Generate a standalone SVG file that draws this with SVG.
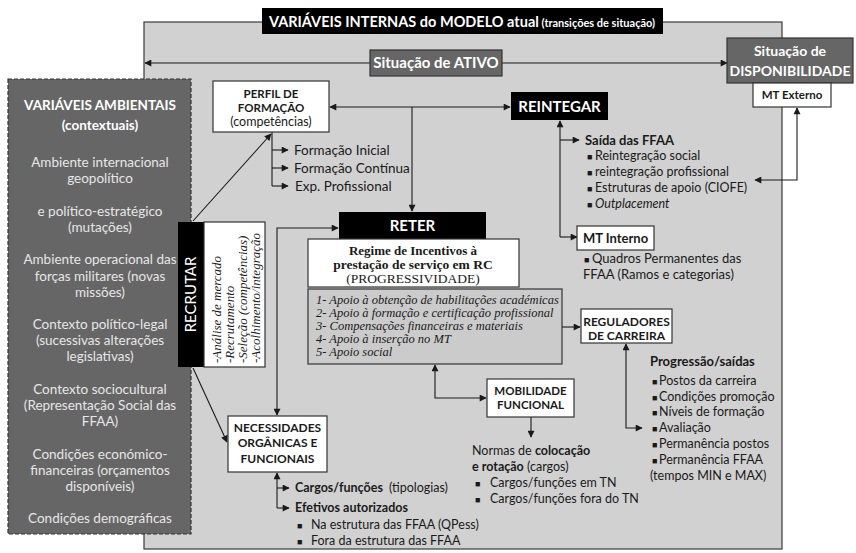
<svg xmlns="http://www.w3.org/2000/svg" width="856" height="553" viewBox="0 0 856 553">
  <style>
    .sans { font-family: Lato, "Open Sans", "Liberation Sans", sans-serif; }
    .serif { font-family: "Liberation Serif", "DejaVu Serif", serif; }
    .b { font-weight: bold; }
    .i { font-style: italic; }
    .wt { fill: #ffffff; }
    .lt { fill: #e6e6e6; }
    .dk { fill: #1a1a1a; }
    .mid { text-anchor: middle; }
    .box { fill: #ffffff; stroke: #333333; stroke-width: 1.2; }
    .blk { fill: #000000; }
    .gbox { fill: #666666; stroke: #333333; stroke-width: 1.2; }
    .ln { fill: none; stroke: #1a1a1a; stroke-width: 1.1; }
  </style>
  <defs>
    <marker id="ah" viewBox="0 0 10 10" refX="9" refY="5" markerWidth="8" markerHeight="7" markerUnits="userSpaceOnUse" orient="auto-start-reverse">
      <path d="M0,0 L10,5 L0,10 z" fill="#1a1a1a"/>
    </marker>
  </defs>

  <!-- internal variables panel -->
  <g id="painel-interno">
    <rect x="144" y="22" width="638" height="527" fill="#d1d1d1" stroke="#3a3a3a" stroke-width="1.2"/>
  </g>

  <g id="titulo">
    <rect x="262" y="8" width="401" height="26" class="blk"/>
    <text x="462" y="27" class="sans b wt mid"><tspan font-size="14.5">VARIÁVEIS INTERNAS do MODELO atual</tspan><tspan font-size="11"> (transições de situação)</tspan></text>
  </g>

  <!-- connectors -->
  <g id="conectores">
    <line x1="370" y1="63" x2="145" y2="63" class="ln" marker-end="url(#ah)"/>
    <line x1="502" y1="63" x2="727" y2="63" class="ln" marker-end="url(#ah)"/>
    <line x1="193" y1="221" x2="271" y2="134" class="ln" marker-end="url(#ah)"/>
    <line x1="193" y1="368" x2="227" y2="442" class="ln" marker-end="url(#ah)"/>
    <line x1="272" y1="132" x2="272" y2="186" class="ln"/>
    <line x1="272" y1="150" x2="288" y2="150" class="ln" marker-end="url(#ah)"/>
    <line x1="272" y1="168" x2="288" y2="168" class="ln" marker-end="url(#ah)"/>
    <line x1="272" y1="186" x2="288" y2="186" class="ln" marker-end="url(#ah)"/>
    <line x1="330" y1="107" x2="510" y2="107" class="ln" marker-start="url(#ah)" marker-end="url(#ah)"/>
    <line x1="412" y1="107" x2="412" y2="211" class="ln" marker-end="url(#ah)"/>
    <line x1="560" y1="237" x2="560" y2="121" class="ln" marker-end="url(#ah)"/>
    <line x1="560" y1="140" x2="579" y2="140" class="ln" marker-end="url(#ah)"/>
    <line x1="560" y1="237" x2="577" y2="237" class="ln" marker-end="url(#ah)"/>
    <path d="M755,180 H797 V108" class="ln" marker-start="url(#ah)" marker-end="url(#ah)"/>
    <path d="M338,228 H277 V415" class="ln" marker-start="url(#ah)" marker-end="url(#ah)"/>
    <line x1="562" y1="327" x2="580" y2="327" class="ln" marker-end="url(#ah)"/>
    <path d="M642,428 H626 V344" class="ln" marker-start="url(#ah)" marker-end="url(#ah)"/>
    <path d="M435,365 V398 H486" class="ln" marker-start="url(#ah)" marker-end="url(#ah)"/>
    <line x1="531" y1="417" x2="531" y2="437" class="ln" marker-end="url(#ah)"/>
    <line x1="277" y1="473" x2="277" y2="508" class="ln" marker-start="url(#ah)"/>
    <line x1="277" y1="488" x2="289" y2="488" class="ln" marker-end="url(#ah)"/>
    <line x1="277" y1="508" x2="289" y2="508" class="ln" marker-end="url(#ah)"/>
  </g>

  <g id="ativo">
    <rect x="370" y="50" width="132" height="26" class="gbox"/>
    <text x="436" y="68" font-size="15" class="sans b wt mid">Situação de ATIVO</text>
  </g>

  <g id="disponibilidade">
    <rect x="727" y="38" width="126" height="45" class="gbox"/>
    <text x="790" y="56" font-size="14" class="sans b wt mid">Situação de</text>
    <text x="790" y="76" font-size="14" class="sans b wt mid">DISPONIBILIDADE</text>
  </g>

  <g id="mt-externo">
    <rect x="753" y="83" width="78" height="24" class="box"/>
    <text x="792" y="99" font-size="11.5" class="sans b dk mid">MT Externo</text>
  </g>

  <!-- environmental variables -->
  <g id="ambientais">
    <rect x="8" y="79" width="183" height="455" fill="#666666" stroke="#333333" stroke-width="1.2" stroke-dasharray="4 2"/>
    <text x="100" y="110" font-size="13.5" class="sans b wt mid">VARIÁVEIS AMBIENTAIS</text>
    <text x="100" y="130" font-size="13.5" class="sans b wt mid">(contextuais)</text>
    <g font-size="13.5" class="sans lt mid">
      <text x="100" y="167">Ambiente internacional</text>
      <text x="100" y="183">geopolítico</text>
      <text x="100" y="216">e político-estratégico</text>
      <text x="100" y="232">(mutações)</text>
      <text x="100" y="264">Ambiente operacional das</text>
      <text x="100" y="281">forças militares (novas</text>
      <text x="100" y="297">missões)</text>
      <text x="100" y="329">Contexto político-legal</text>
      <text x="100" y="345">(sucessivas alterações</text>
      <text x="100" y="361">legislativas)</text>
      <text x="100" y="394">Contexto sociocultural</text>
      <text x="100" y="410">(Representação Social das</text>
      <text x="100" y="426">FFAA)</text>
      <text x="100" y="459">Condições económico-</text>
      <text x="100" y="475">financeiras (orçamentos</text>
      <text x="100" y="491">disponíveis)</text>
      <text x="100" y="523">Condições demográficas</text>
    </g>
  </g>

  <g id="recrutar">
    <rect x="178" y="222" width="26" height="145" class="blk"/>
    <text transform="translate(196,294.5) rotate(-90)" font-size="15" class="sans wt mid">RECRUTAR</text>
    <rect x="204" y="222" width="61" height="145" class="box"/>
    <g font-size="13" class="serif i dk">
      <text transform="translate(221,363) rotate(-90)">-Análise de mercado</text>
      <text transform="translate(234,363) rotate(-90)">-Recrutamento</text>
      <text transform="translate(247,363) rotate(-90)">-Seleção (competências)</text>
      <text transform="translate(260,363) rotate(-90)">-Acolhimento/integração</text>
    </g>
  </g>

  <g id="perfil-formacao">
    <rect x="213" y="81" width="116" height="51" class="box"/>
    <text x="271" y="98" font-size="11.5" class="sans b dk mid">PERFIL DE</text>
    <text x="271" y="112" font-size="11.5" class="sans b dk mid">FORMAÇÃO</text>
    <text x="271" y="126" font-size="12.5" class="sans dk mid">(competências)</text>
    <g font-size="13.5" class="sans dk">
      <text x="294" y="155">Formação Inicial</text>
      <text x="294" y="173">Formação Contínua</text>
      <text x="295" y="191">Exp. Profissional</text>
    </g>
  </g>

  <g id="reintegrar">
    <rect x="511" y="92" width="97" height="28" class="blk"/>
    <text x="559.5" y="112" font-size="15" class="sans b wt mid">REINTEGAR</text>
    <text x="585" y="145" font-size="13" class="sans b dk">Saída das FFAA</text>
    <g font-size="12.5" class="sans dk">
      <text y="160"><tspan x="587" font-size="9">■</tspan><tspan x="595">Reintegração social</tspan></text>
      <text y="176"><tspan x="587" font-size="9">■</tspan><tspan x="595">reintegração profissional</tspan></text>
      <text y="192"><tspan x="587" font-size="9">■</tspan><tspan x="595">Estruturas de apoio (CIOFE)</tspan></text>
      <text y="208"><tspan x="587" font-size="9">■</tspan><tspan x="595" class="i">Outplacement</tspan></text>
    </g>
  </g>

  <g id="mt-interno">
    <rect x="577" y="226" width="77" height="24" class="box"/>
    <text x="615.5" y="243" font-size="13" class="sans b dk mid">MT Interno</text>
    <g font-size="13" class="sans dk">
      <text y="263"><tspan x="584" font-size="9">■</tspan><tspan x="592">Quadros Permanentes das</tspan></text>
      <text x="583" y="279">FFAA (Ramos e categorias)</text>
    </g>
  </g>

  <g id="reter">
    <rect x="339" y="212" width="147" height="27" class="blk"/>
    <text x="412.5" y="231" font-size="15" class="sans b wt mid">RETER</text>
    <rect x="308" y="239" width="211" height="48" class="box"/>
    <text x="413" y="255" font-size="13" class="serif b dk mid">Regime de Incentivos à</text>
    <text x="413" y="269" font-size="13.5" class="serif b dk mid">prestação de serviço em RC</text>
    <text x="413" y="283" font-size="13.5" class="serif dk mid">(PROGRESSIVIDADE)</text>
    <rect x="308" y="289" width="254" height="75" fill="#cbcbcb" stroke="#333333" stroke-width="1.2"/>
    <g font-size="12.5" class="serif i dk">
      <text x="316" y="304">1- Apoio à obtenção de habilitações académicas</text>
      <text x="316" y="317">2- Apoio à formação e certificação profissional</text>
      <text x="316" y="330">3- Compensações financeiras e materiais</text>
      <text x="316" y="343">4- Apoio à inserção no MT</text>
      <text x="316" y="356">5- Apoio social</text>
    </g>
  </g>

  <g id="reguladores">
    <rect x="581" y="309" width="91" height="34" class="box"/>
    <text x="626.5" y="326" font-size="12" class="sans b dk mid">REGULADORES</text>
    <text x="626.5" y="340" font-size="12" class="sans b dk mid">DE CARREIRA</text>
    <text x="650" y="366" font-size="13" class="sans b dk">Progressão/saídas</text>
    <g font-size="12.5" class="sans dk">
      <text y="385"><tspan x="652" font-size="9">■</tspan><tspan x="659">Postos da carreira</tspan></text>
      <text y="401"><tspan x="652" font-size="9">■</tspan><tspan x="659">Condições promoção</tspan></text>
      <text y="416"><tspan x="652" font-size="9">■</tspan><tspan x="659">Níveis de formação</tspan></text>
      <text y="432"><tspan x="652" font-size="9">■</tspan><tspan x="659">Avaliação</tspan></text>
      <text y="448"><tspan x="652" font-size="9">■</tspan><tspan x="659">Permanência postos</tspan></text>
      <text y="464"><tspan x="652" font-size="9">■</tspan><tspan x="659">Permanência FFAA</tspan></text>
      <text x="650" y="480">(tempos MIN e MAX)</text>
    </g>
  </g>

  <g id="mobilidade">
    <rect x="487" y="379" width="87" height="38" class="box"/>
    <text x="530.5" y="395" font-size="11.5" class="sans b dk mid">MOBILIDADE</text>
    <text x="530.5" y="409" font-size="11.5" class="sans b dk mid">FUNCIONAL</text>
    <g font-size="12.5" class="sans dk">
      <text x="472" y="455">Normas de <tspan class="b">colocação</tspan></text>
      <text x="472" y="471"><tspan class="b">e rotação</tspan> (cargos)</text>
      <text y="487"><tspan x="475" font-size="9">■</tspan><tspan x="490">Cargos/funções em TN</tspan></text>
      <text y="503"><tspan x="475" font-size="9">■</tspan><tspan x="490">Cargos/funções fora do TN</tspan></text>
    </g>
  </g>

  <g id="necessidades">
    <rect x="228" y="416" width="99" height="56" class="box"/>
    <text x="277.5" y="432" font-size="12" class="sans b dk mid">NECESSIDADES</text>
    <text x="277.5" y="447" font-size="12" class="sans b dk mid">ORGÂNICAS E</text>
    <text x="277.5" y="463" font-size="12" class="sans b dk mid">FUNCIONAIS</text>
    <g font-size="12.5" class="sans dk">
      <text x="295" y="492"><tspan class="b">Cargos/funções</tspan><tspan dx="6">(tipologias)</tspan></text>
      <text x="295" y="512" class="b">Efetivos autorizados</text>
      <text y="529"><tspan x="297" font-size="9">■</tspan><tspan x="311">Na estrutura das FFAA (QPess)</tspan></text>
      <text y="545"><tspan x="297" font-size="9">■</tspan><tspan x="311">Fora da estrutura das FFAA</tspan></text>
    </g>
  </g>
</svg>
